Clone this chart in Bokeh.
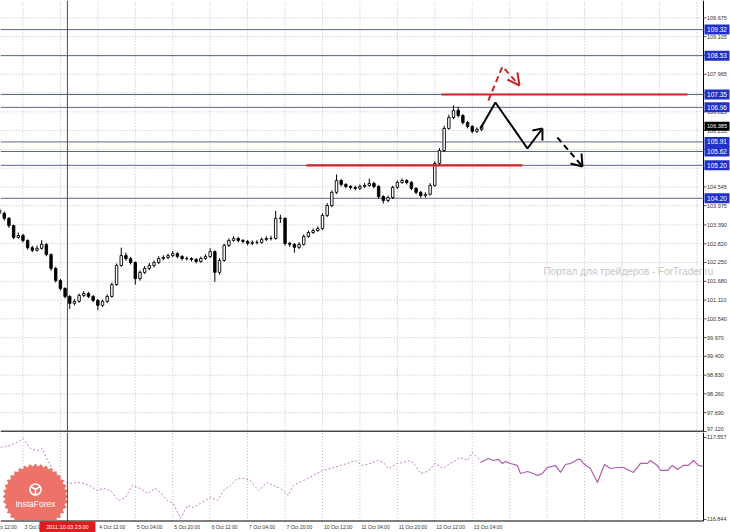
import numpy as np
from bokeh.plotting import figure
from bokeh.layouts import column
from bokeh.models import Range1d
from bokeh.embed import file_html
from bokeh.resources import INLINE
from bokeh.core.properties import value

FONT = "Liberation Sans"

# ---------------- data ----------------
# bar position = trading hours after 2011.10.03 23:00 (weekend skipped), 2-hour candles
bar_x = list(range(-29, 179, 2))
opens = [103.85, 103.74, 103.59, 103.37, 103.01, 103.07, 102.92, 102.70, 102.62, 102.68,
         102.80, 102.49, 102.07, 101.70, 101.46, 101.22, 101.01, 101.07, 101.25, 101.31,
         101.22, 101.10, 100.95, 101.07, 101.22, 101.58, 102.16, 102.46, 102.37, 102.25,
         101.76, 101.95, 102.07, 102.16, 102.25, 102.37, 102.40, 102.46, 102.52, 102.43,
         102.37, 102.37, 102.34, 102.28, 102.37, 102.43, 102.58, 101.95, 102.31, 102.77,
         102.92, 102.98, 102.92, 102.89, 102.83, 102.86, 102.86, 102.95, 102.98, 102.98,
         103.59, 103.59, 102.83, 102.80, 102.71, 102.80, 103.04, 103.16, 103.22, 103.28,
         103.68, 103.98, 104.38, 104.74, 104.62, 104.56, 104.53, 104.50, 104.56, 104.59,
         104.65, 104.56, 104.25, 104.13, 104.22, 104.53, 104.68, 104.74, 104.68, 104.50,
         104.38, 104.28, 104.32, 104.59, 105.26, 105.65, 106.32, 106.65, 106.87, 106.71,
         106.50, 106.38, 106.23, 106.29]
closes = [103.74, 103.59, 103.37, 103.01, 103.07, 102.92, 102.70, 102.62, 102.68, 102.80,
          102.49, 102.07, 101.70, 101.46, 101.22, 101.01, 101.07, 101.25, 101.31, 101.22,
          101.10, 100.95, 101.07, 101.22, 101.58, 102.16, 102.46, 102.37, 102.25, 101.76,
          101.95, 102.07, 102.16, 102.25, 102.37, 102.40, 102.46, 102.52, 102.43, 102.37,
          102.37, 102.34, 102.28, 102.37, 102.43, 102.58, 101.95, 102.31, 102.77, 102.92,
          102.98, 102.92, 102.89, 102.83, 102.86, 102.86, 102.95, 102.98, 102.98, 103.59,
          103.59, 102.83, 102.80, 102.71, 102.80, 103.04, 103.16, 103.22, 103.28, 103.68,
          103.98, 104.38, 104.74, 104.62, 104.56, 104.53, 104.50, 104.56, 104.59, 104.65,
          104.56, 104.25, 104.13, 104.22, 104.53, 104.68, 104.74, 104.68, 104.50, 104.38,
          104.28, 104.32, 104.59, 105.26, 105.65, 106.32, 106.65, 106.87, 106.71, 106.50,
          106.38, 106.23, 106.29, 106.385]
highs = [103.90, 103.80, 103.63, 103.40, 103.16, 103.12, 102.95, 102.76, 102.76, 102.93,
         102.84, 102.53, 102.12, 101.75, 101.50, 101.26, 101.14, 101.31, 101.38, 101.36,
         101.26, 101.14, 101.12, 101.28, 101.64, 102.22, 102.70, 102.55, 102.42, 102.28,
         102.01, 102.14, 102.24, 102.31, 102.44, 102.47, 102.52, 102.60, 102.56, 102.48,
         102.43, 102.41, 102.38, 102.43, 102.50, 102.68, 102.62, 102.38, 102.82, 102.98,
         103.05, 103.03, 102.96, 102.93, 102.92, 102.93, 103.01, 103.04, 103.06, 103.82,
         103.70, 103.62, 102.88, 102.84, 102.87, 103.10, 103.22, 103.28, 103.35, 103.74,
         104.05, 104.44, 104.92, 104.78, 104.66, 104.60, 104.58, 104.62, 104.66, 104.80,
         104.70, 104.60, 104.29, 104.28, 104.58, 104.74, 104.80, 104.78, 104.72, 104.54,
         104.42, 104.38, 104.66, 105.32, 105.72, 106.40, 106.74, 107.02, 106.98, 106.76,
         106.55, 106.42, 106.35, 106.44]
lows = [103.66, 103.52, 103.30, 102.96, 102.97, 102.86, 102.64, 102.56, 102.58, 102.64,
        102.44, 102.00, 101.64, 101.40, 101.16, 100.84, 100.95, 101.03, 101.20, 101.17,
        101.04, 100.80, 100.90, 101.02, 101.18, 101.54, 102.12, 102.30, 102.19, 101.58,
        101.70, 101.90, 102.02, 102.10, 102.20, 102.32, 102.35, 102.41, 102.38, 102.31,
        102.31, 102.28, 102.22, 102.24, 102.33, 102.39, 101.66, 101.88, 102.27, 102.72,
        102.88, 102.86, 102.83, 102.77, 102.78, 102.80, 102.82, 102.90, 102.92, 102.94,
        103.45, 102.76, 102.72, 102.55, 102.66, 102.76, 103.00, 103.12, 103.18, 103.24,
        103.63, 103.93, 104.33, 104.56, 104.50, 104.47, 104.44, 104.45, 104.51, 104.55,
        104.50, 104.19, 104.04, 104.08, 104.18, 104.48, 104.64, 104.62, 104.45, 104.32,
        104.22, 104.22, 104.28, 104.55, 105.20, 105.60, 106.28, 106.60, 106.65, 106.44,
        106.32, 106.17, 106.18, 106.24]

price_ticks = [97.120, 97.690, 98.260, 98.830, 99.400, 99.970, 100.540, 101.110, 101.680,
               102.250, 102.820, 103.390, 103.975, 104.545, 105.115, 105.685, 106.255,
               106.825, 107.395, 107.965, 108.535, 109.105, 109.675]
level_prices = [109.32, 108.53, 107.35, 106.96, 105.91, 105.62, 105.20, 104.20]
level_labels = ["109.32", "108.53", "107.35", "106.96", "105.91", "105.62", "105.20", "104.20"]
last_price = 106.385

red_level_y = [107.35, 105.20]
red_level_x0 = [159.8, 102.1]
red_level_x1 = [265.0, 194.4]

# forecast drawings (bar position, price)
up_path_x = [176.5, 182.9, 196.6, 203.0]
up_path_y = [106.318, 107.107, 105.711, 106.318]
up_head_x = [198.7, 203.0]
up_head_y = [106.257, 105.954]
dn_path_x = [209.4, 220.1]
dn_path_y = [106.045, 105.165]
dn_head_x = [215.0, 219.7]
dn_head_y = [105.256, 105.559]
alt_path_x = [179.9, 185.9, 193.2]
alt_path_y = [107.168, 108.200, 107.624]
alt_head_x = [188.0, 192.3]
alt_head_y = [107.806, 108.018]

# lower window line
ind_hist_x = [-28.6, -24.4, -20.1, -18.8, -15.8, -12.8, -10.7, -8.5, -6.0, -1.7, 0.4, 5.6, 8.5,
              12.8, 15.4, 18.4, 21.8, 24.8, 27.8, 31.2, 34.2, 37.6, 39.7, 42.7, 45.3, 48.3,
              51.3, 53.8, 56.8, 61.1, 64.1, 66.7, 69.7, 72.6, 75.2, 78.2, 81.6, 85.5, 88.0,
              91.0, 94.4, 96.6, 100.9, 105.1, 109.0, 112.4, 116.7, 119.7, 123.1, 126.1, 129.5,
              132.5, 135.0, 137.2, 141.0, 143.6, 146.6, 148.7, 150.9, 153.8, 157.3, 160.3,
              163.7, 167.9, 170.9, 173.1, 176.5]
ind_hist_v = [117.470, 117.487, 117.531, 117.548, 117.461, 117.444, 117.461, 117.357, 117.270,
              117.183, 117.157, 117.166, 117.148, 117.096, 117.114, 117.096, 117.009, 117.035,
              117.140, 117.114, 117.070, 117.114, 117.079, 117.009, 116.983, 116.853, 116.966,
              116.948, 116.983, 117.035, 117.009, 117.096, 117.140, 117.200, 117.200, 117.183,
              117.096, 117.166, 117.140, 117.114, 117.053, 117.140, 117.183, 117.227, 117.270,
              117.287, 117.314, 117.331, 117.357, 117.314, 117.331, 117.357, 117.340, 117.287,
              117.331, 117.340, 117.357, 117.314, 117.244, 117.261, 117.331, 117.287, 117.331,
              117.383, 117.357, 117.427, 117.357]
ind_live_x = [176.5, 179.9, 182.1, 184.2, 185.9, 187.2, 189.3, 192.3, 193.6, 196.6, 199.1, 200.9,
              203.0, 205.1, 207.3, 208.5, 210.7, 212.8, 215.0, 218.0, 219.2, 220.5, 223.5, 226.5,
              229.5, 232.1, 235.0, 237.6, 241.9, 244.9, 247.9, 249.1, 252.1, 253.4, 256.4, 258.5,
              260.7, 263.2, 265.4, 267.5, 269.7, 271.4]
ind_live_v = [117.340, 117.374, 117.357, 117.366, 117.331, 117.348, 117.331, 117.314, 117.244,
              117.261, 117.244, 117.227, 117.244, 117.296, 117.305, 117.314, 117.253, 117.322,
              117.331, 117.366, 117.366, 117.331, 117.287, 117.166, 117.322, 117.287, 117.296,
              117.296, 117.253, 117.331, 117.331, 117.357, 117.314, 117.270, 117.270, 117.314,
              117.279, 117.314, 117.314, 117.357, 117.314, 117.305]
ind_ticks = [116.844, 117.557]

grid_bars = [-19, -3, 13, 29, 45, 61, 77, 93, 109, 125, 141, 157, 173, 189, 205, 221, 237, 253, 269]
time_bars = [-35, -19, -3, 13, 29, 45, 61, 77, 93, 109, 125, 141, 157, 173]
time_labels = ["30 Sep 12:00", "3 Oct 04:00", "3 Oct 20:00", "4 Oct 12:00", "5 Oct 04:00",
               "5 Oct 20:00", "6 Oct 12:00", "7 Oct 04:00", "7 Oct 20:00", "10 Oct 12:00",
               "11 Oct 04:00", "11 Oct 20:00", "12 Oct 12:00", "13 Oct 04:00"]
cursor_bar = 0
cursor_label = "2011.10.03 23:00"
watermark = "Портал для трейдеров - ForTrader.ru"
watermark_pos = (203.45, 101.98)

# ---------------- geometry of the window ----------------
W = 730
MAIN_H = 432
IND_H = 100
PPB = 2.34                       # pixels per hourly bar
X0 = -28.6                       # left edge (bars)
X1 = X0 + 703 / PPB              # price-scale line
XE = X0 + W / PPB                # right edge of window
Y0, Y1 = 97.089, 110.204         # main window price range
IY0, IY1 = 116.731, 117.600      # lower window range (incl. time row)
I_PX = (IY1 - IY0) / IND_H       # value per pixel in lower window
I_AX = IY0 + 11.5 * I_PX         # time-axis line
TIME_Y = IY0 + 5.8 * I_PX        # time-label row

GRID_C = "#bdbdbd"
LEVEL_C = "#5a6490"
RED = "#cc2429"
CURSOR = "#b02424"
BLUE_BOX = "#2131c9"
TXT = "#333333"


def make_fig(h, yr):
    f = figure(width=W, height=h, x_range=Range1d(X0, XE), y_range=Range1d(*yr),
               output_backend="svg", toolbar_location=None, x_axis_location=None,
               y_axis_location=None, min_border=0, outline_line_color=None,
               background_fill_color="white", border_fill_color="white")
    f.grid.visible = False
    return f


def price_scale(f, ticks, top, bottom, label_dy):
    f.segment(x0=X1, y0=bottom, x1=X1, y1=top, line_color="black", line_width=1)
    f.segment(x0=X1, y0=ticks, x1=X1 + 3 / PPB, y1=ticks, line_color="#555555", line_width=1)
    f.text(x=X1 + 3.5 / PPB, y=ticks, text=[f"{t:.3f}" for t in ticks], y_offset=label_dy,
           text_font=value(FONT), text_font_size="5.5px", text_color=TXT,
           text_align="left", text_baseline="middle")


# ---------------- main window ----------------
main = make_fig(MAIN_H, (Y0, Y1))
main.segment(x0=grid_bars, y0=Y0, x1=grid_bars, y1=Y1, line_color=GRID_C, line_dash="1 2")
main.segment(x0=X0, y0=price_ticks, x1=X1, y1=price_ticks, line_color=GRID_C, line_dash="1 2")
main.segment(x0=X0, y0=level_prices, x1=X1, y1=level_prices, line_color=LEVEL_C, line_width=1)
main.segment(x0=X0, y0=97.12, x1=X1, y1=97.12, line_color="#4a4a4a", line_width=2)
main.segment(x0=cursor_bar, y0=Y0, x1=cursor_bar, y1=Y1, line_color=CURSOR, line_width=1)

main.text(x=[watermark_pos[0]], y=[watermark_pos[1]], text=[watermark], text_color="#c6c6c6",
          text_font=value(FONT), text_font_size="10px", text_align="left", text_baseline="middle")

body_top = [max(o, c) for o, c in zip(opens, closes)]
body_bot = [min(o, c) for o, c in zip(opens, closes)]
fills = ["white" if c >= o else "black" for o, c in zip(opens, closes)]
main.segment(x0=bar_x, y0=lows, x1=bar_x, y1=highs, line_color="black", line_width=1)
main.vbar(x=bar_x, width=1.05, top=body_top, bottom=body_bot, fill_color=fills,
          line_color="black", line_width=0.9)

main.segment(x0=red_level_x0, y0=red_level_y, x1=red_level_x1, y1=red_level_y,
             line_color=RED, line_width=2.2)

main.line(up_path_x, up_path_y, line_color="black", line_width=2)
main.segment(x0=up_head_x, y0=up_head_y, x1=up_path_x[-1], y1=up_path_y[-1],
             line_color="black", line_width=2)
main.line(dn_path_x, dn_path_y, line_color="black", line_width=2, line_dash="6 4")
main.segment(x0=dn_head_x, y0=dn_head_y, x1=dn_path_x[-1], y1=dn_path_y[-1],
             line_color="black", line_width=2)
main.line(alt_path_x, alt_path_y, line_color=RED, line_width=2, line_dash="6 4")
main.segment(x0=alt_head_x, y0=alt_head_y, x1=alt_path_x[-1], y1=alt_path_y[-1],
             line_color=RED, line_width=2)

price_scale(main, price_ticks, Y1, Y0, [-2 if t == price_ticks[0] else 0 for t in price_ticks])

tag_x = X1 + 13.5 / PPB
main.rect(x=tag_x, y=level_prices, width=25, height=10, width_units="screen",
          height_units="screen", fill_color=BLUE_BOX, line_color=None)
main.text(x=tag_x, y=level_prices, text=level_labels, text_color="white", text_font=value(FONT),
          text_font_size="6.5px", text_align="center", text_baseline="middle")
main.rect(x=tag_x, y=[last_price], width=25, height=9, width_units="screen",
          height_units="screen", fill_color="black", line_color=None)
main.text(x=tag_x, y=[last_price], text=[f"{last_price:.3f}"], text_color="white",
          text_font=value(FONT), text_font_size="5.5px", text_align="center",
          text_baseline="middle")

# ---------------- lower window ----------------
ind = make_fig(IND_H, (IY0, IY1))
ind.segment(x0=grid_bars, y0=I_AX, x1=grid_bars, y1=IY1, line_color=GRID_C, line_dash="1 2")

# logo badge (clipped at the time axis)
badge_cx, badge_cy = X0 + 35 / PPB, IY0 + 36 * I_PX
n_teeth = 36
ang = np.linspace(0, 2 * np.pi, 2 * n_teeth, endpoint=False)
rad = np.where(np.arange(2 * n_teeth) % 2 == 0, 33.0, 30.0)
bx = badge_cx + rad * np.cos(ang) / PPB
by = np.maximum(badge_cy + rad * np.sin(ang) * I_PX, I_AX + I_PX)
ind.patch(bx, by, fill_color="#ec6a62", line_color=None, fill_alpha=0.95)
ind.scatter([badge_cx], [badge_cy + 7 * I_PX], marker="circle_y", size=11,
            fill_color=None, line_color="white", line_width=1.6)
ind.text([badge_cx], [badge_cy - 7 * I_PX], text=["InstaForex"], text_color="white",
         text_font=value(FONT), text_font_size="8.5px", text_align="center",
         text_baseline="middle")

ind.line(ind_hist_x, ind_hist_v, line_color="#c27cc2", line_width=1, line_dash="2 2")
ind.line(ind_live_x, ind_live_v, line_color="#b35cb3", line_width=1.2)
ind.segment(x0=cursor_bar, y0=I_AX, x1=cursor_bar, y1=IY1, line_color=CURSOR, line_width=1)

ind.segment(x0=X0, y0=I_AX, x1=X1, y1=I_AX, line_color="black", line_width=1)
price_scale(ind, ind_ticks, IY1, I_AX, 0)

ind.text(x=[b + 1.5 / PPB for b in time_bars], y=TIME_Y, text=time_labels, text_color=TXT,
         text_font=value(FONT), text_font_size="5px", text_align="left", text_baseline="middle")
ind.rect(x=[cursor_bar], y=[TIME_Y], width=56, height=11, width_units="screen",
         height_units="screen", fill_color="#e01c1c", line_color=None)
ind.text(x=[cursor_bar], y=[TIME_Y], text=[cursor_label], text_color="white",
         text_font=value(FONT), text_font_size="5.5px", text_align="center",
         text_baseline="middle")

layout = column(main, ind, spacing=0)
open("out.html", "w").write(file_html(layout, INLINE))
